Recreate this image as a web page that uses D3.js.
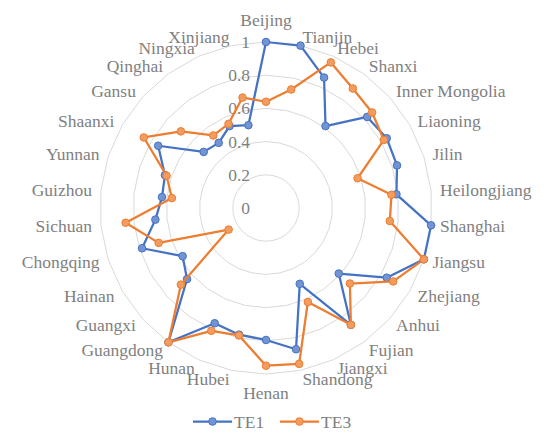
<!DOCTYPE html>
<html><head><meta charset="utf-8">
<script src="https://cdn.jsdelivr.net/npm/d3@7"></script>
<style>body{margin:0;background:#fff}svg{display:block}</style>
</head><body>
<svg id="c" width="550" height="441"></svg>
<script>
const categories = ["Beijing","Tianjin","Hebei","Shanxi","Inner Mongolia","Liaoning","Jilin","Heilongjiang","Shanghai","Jiangsu","Zhejiang","Anhui","Fujian","Jiangxi","Shandong","Henan","Hubei","Hunan","Guangdong","Guangxi","Hainan","Chongqing","Sichuan","Guizhou","Yunnan","Shaanxi","Gansu","Qinghai","Ningxia","Xinjiang"];
const te1 = [1.0,1.0,0.86,0.61,0.82,0.84,0.83,0.79,1.0,1.0,0.84,0.59,0.87,0.50,0.87,0.795,0.78,0.76,1.0,0.64,0.58,0.785,0.67,0.63,0.64,0.75,0.505,0.485,0.54,0.51];
const te3 = [0.64,0.73,0.96,0.89,0.86,0.82,0.58,0.76,0.75,1.0,0.885,0.68,0.87,0.62,0.96,0.95,0.785,0.81,1.0,0.69,0.26,0.68,0.85,0.57,0.63,0.85,0.69,0.54,0.555,0.68];
const seriesNames = ["TE1","TE3"];
const tickValues = [0,0.2,0.4,0.6,0.8,1];
const tickLabels = ["0","0.2","0.4","0.6","0.8","1"];

const colors = ["#4472C4","#ED7D31"];
const fills = ["#7394d2","#f29c5f"];
const font = "'Liberation Serif', serif";
const fontSize = 17.5;
const textColor = "#7f7f7f";

const cx = 266, cy = 208, R = 166;
const svg = d3.select("#c");
const r = d3.scaleLinear().domain([0,1]).range([0,R]);
const ang = d3.scalePoint().domain(categories).range([0, 2*Math.PI*(categories.length)/categories.length]);
const angle = (i) => i * 2*Math.PI/categories.length;
const pt = (i, v) => [cx + r(v)*Math.sin(angle(i)), cy - r(v)*Math.cos(angle(i))];

const g = svg.append("g");
// grid polygons
tickValues.filter(v => v > 0).forEach(v => {
  g.append("path")
    .attr("d", d3.line()(categories.map((c,i) => pt(i, v))) + "Z")
    .attr("fill","none").attr("stroke","#d9d9d9").attr("stroke-width",1);
});

// tick labels
tickValues.forEach((v,k) => {
  g.append("text").attr("x", cx-16).attr("y", cy - r(v))
    .attr("text-anchor","end").attr("dominant-baseline","central")
    .attr("font-family",font).attr("font-size",fontSize).attr("fill",textColor)
    .text(tickLabels[k]);
});

// category labels
categories.forEach((c,i) => {
  const a = angle(i);
  const s = Math.sin(a), co = Math.cos(a);
  const LR = 175;
  let x = cx + LR*s, y = cy - LR*co;
  let anchor = "middle";
  if (s > 0.05) anchor = "start"; else if (s < -0.05) anchor = "end";
  if (anchor === "middle") y += co > 0 ? -13 : 10;
  g.append("text").attr("x", x).attr("y", y)
    .attr("text-anchor", anchor).attr("dominant-baseline","central")
    .attr("font-family",font).attr("font-size",fontSize).attr("fill",textColor)
    .text(c);
});

// series
const lineGen = d3.lineRadial().angle((d,i) => angle(i)).radius(d => r(d)).curve(d3.curveLinearClosed);
[te1, te3].forEach((vals, s) => {
  const sg = svg.append("g").attr("transform", `translate(${cx},${cy})`);
  sg.append("path").attr("d", lineGen(vals)).attr("fill","none")
    .attr("stroke", colors[s]).attr("stroke-width",2.25).attr("stroke-linejoin","round");
  sg.selectAll("circle").data(vals).join("circle")
    .attr("cx", (d,i) => r(d)*Math.sin(angle(i)))
    .attr("cy", (d,i) => -r(d)*Math.cos(angle(i)))
    .attr("r", 3.8).attr("fill", fills[s]).attr("stroke", colors[s]).attr("stroke-width",1);
});

// legend
const legend = svg.append("g");
const legX = [193, 280], ly = 421.5;
seriesNames.forEach((n, s) => {
  const x0 = legX[s];
  legend.append("line").attr("x1", x0).attr("x2", x0+39).attr("y1", ly).attr("y2", ly)
    .attr("stroke", colors[s]).attr("stroke-width", 2.25);
  legend.append("circle").attr("cx", x0+19.5).attr("cy", ly).attr("r", 3.8)
    .attr("fill", fills[s]).attr("stroke", colors[s]).attr("stroke-width", 1);
  legend.append("text").attr("x", x0+41).attr("y", ly).attr("dominant-baseline","central")
    .attr("font-family",font).attr("font-size",fontSize).attr("fill",textColor).text(n);
});
</script>
</body></html>
